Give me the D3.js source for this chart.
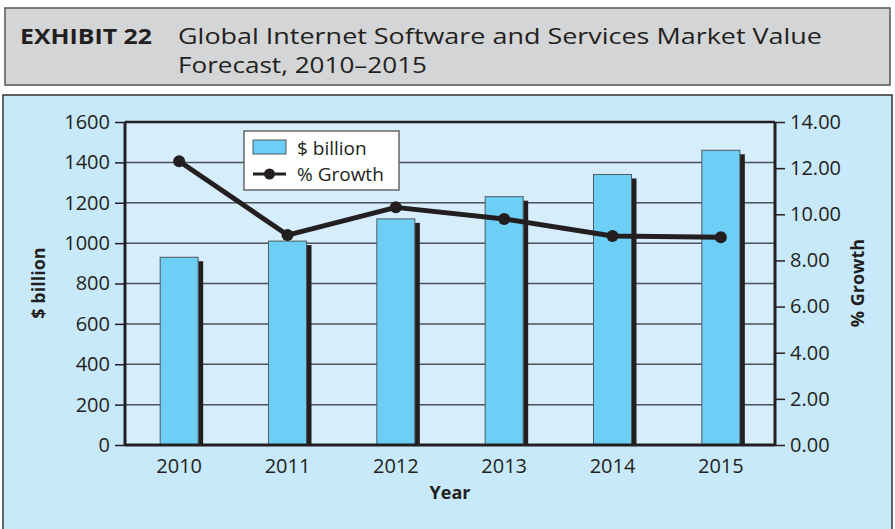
<!DOCTYPE html>
<html><head><meta charset="utf-8">
<script src="https://cdn.jsdelivr.net/npm/d3@7/dist/d3.min.js"></script>
<style>body{margin:0;background:#fff;}svg{display:block;}</style>
</head><body>
<script>
const years = ["2010","2011","2012","2013","2014","2015"];
const billions = [930, 1010, 1120, 1230, 1340, 1460];
const growth = [12.3, 9.1, 10.3, 9.8, 9.06, 9.0];
const leftTicks = [0,200,400,600,800,1000,1200,1400,1600];
const rightTicks = [0,2,4,6,8,10,12,14];

const W=895,H=529;
const svg=d3.select("body").append("svg").attr("width",W).attr("height",H);
const font="'Open Sans', sans-serif";

// header
svg.append("rect").attr("x",5).attr("y",8).attr("width",885).attr("height",77)
  .attr("fill","#d4d5d6").attr("stroke","#555").attr("stroke-width",1.5);
svg.append("text").attr("x",20).attr("y",44).attr("font-family",font).attr("font-weight",700)
  .attr("font-size",21).attr("fill","#231f20").attr("textLength",132).attr("lengthAdjust","spacingAndGlyphs").text("EXHIBIT 22");
svg.append("text").attr("x",178).attr("y",44).attr("font-family",font)
  .attr("font-size",21).attr("fill","#231f20").attr("textLength",644).attr("lengthAdjust","spacingAndGlyphs").text("Global Internet Software and Services Market Value");
svg.append("text").attr("x",178).attr("y",73).attr("font-family",font)
  .attr("font-size",21).attr("fill","#231f20").attr("textLength",249).attr("lengthAdjust","spacingAndGlyphs").text("Forecast, 2010–2015");

// panel
svg.append("rect").attr("x",3).attr("y",95).attr("width",889).attr("height",440)
  .attr("fill","#c7e9f9").attr("stroke","#333").attr("stroke-width",1.5);

const m={l:125,r:775,t:122,b:445};
const x=d3.scaleBand().domain(years).range([m.l,m.r]);
const yL=d3.scaleLinear().domain([0,1600]).range([m.b,m.t]);
const yR=d3.scaleLinear().domain([0,14]).range([m.b,m.t]);

svg.append("rect").attr("x",m.l).attr("y",m.t).attr("width",m.r-m.l).attr("height",m.b-m.t).attr("fill","#d6eefb");

// gridlines
svg.append("g").selectAll("line").data(leftTicks.filter(d=>d>0&&d<1600)).join("line")
  .attr("x1",m.l).attr("x2",m.r).attr("y1",d=>yL(d)).attr("y2",d=>yL(d))
  .attr("stroke","#4d5256").attr("stroke-width",1.5);

// bars
const bw=38;
const bars=svg.append("g");
bars.selectAll("rect.sh").data(years).join("rect").attr("class","sh")
  .attr("x",(d)=>x(d)+x.bandwidth()/2-bw/2+bw).attr("width",5)
  .attr("y",(d,i)=>yL(billions[i])+4).attr("height",(d,i)=>m.b-yL(billions[i])-4).attr("fill","#231f20");
bars.selectAll("rect.b").data(years).join("rect").attr("class","b")
  .attr("x",(d)=>x(d)+x.bandwidth()/2-bw/2).attr("width",bw)
  .attr("y",(d,i)=>yL(billions[i])).attr("height",(d,i)=>m.b-yL(billions[i]))
  .attr("fill","#6dcff6").attr("stroke","#4d5a60").attr("stroke-width",1);

// border top
svg.append("line").attr("x1",m.l).attr("x2",m.r).attr("y1",m.t).attr("y2",m.t).attr("stroke","#231f20").attr("stroke-width",2.5);

// axes
const axL=svg.append("g").attr("transform",`translate(${m.l},0)`)
  .call(d3.axisLeft(yL).tickValues(leftTicks).tickSize(10).tickPadding(5).tickFormat(d3.format("d")));
const axR=svg.append("g").attr("transform",`translate(${m.r},0)`)
  .call(d3.axisRight(yR).tickValues(rightTicks).tickSize(10).tickPadding(5).tickFormat(d3.format(".2f")));
const axB=svg.append("g").attr("transform",`translate(0,${m.b})`)
  .call(d3.axisBottom(x).tickSize(0).tickPadding(14));
[axL,axR,axB].forEach(a=>{
  a.select(".domain").attr("stroke","#231f20").attr("stroke-width",3);
  a.selectAll(".tick line").attr("stroke","#231f20").attr("stroke-width",1.5);
  a.selectAll("text").attr("font-family",font).attr("font-size",20).attr("fill","#231f20");
});
axL.select(".domain").attr("d",`M0,${m.t}V${m.b}`);
axR.select(".domain").attr("d",`M0,${m.t}V${m.b}`);
axB.select(".domain").attr("d",`M${m.l},0H${m.r}`);

// line
const line=d3.line().x((d,i)=>x(years[i])+x.bandwidth()/2).y(d=>yR(d));
svg.append("path").datum(growth).attr("d",line).attr("fill","none").attr("stroke","#231f20").attr("stroke-width",5).attr("stroke-linejoin","round");
svg.append("g").selectAll("circle").data(growth).join("circle")
  .attr("cx",(d,i)=>x(years[i])+x.bandwidth()/2).attr("cy",d=>yR(d)).attr("r",6).attr("fill","#231f20");

// legend
const lg=svg.append("g");
lg.append("rect").attr("x",244).attr("y",131).attr("width",155).attr("height",59).attr("fill","#fff").attr("stroke","#666").attr("stroke-width",1.5);
lg.append("rect").attr("x",253).attr("y",140).attr("width",33).attr("height",14).attr("fill","#6dcff6").attr("stroke","#4d5a60");
lg.append("line").attr("x1",253).attr("x2",286).attr("y1",174).attr("y2",174).attr("stroke","#231f20").attr("stroke-width",3);
lg.append("circle").attr("cx",269.5).attr("cy",174).attr("r",5.5).attr("fill","#231f20");
lg.append("text").attr("x",297).attr("y",155).attr("font-family",font).attr("font-size",19).attr("fill","#231f20").text("$ billion");
lg.append("text").attr("x",297).attr("y",181).attr("font-family",font).attr("font-size",19).attr("fill","#231f20").text("% Growth");

// axis titles
svg.append("text").attr("transform","translate(45,283) rotate(-90)").attr("text-anchor","middle")
  .attr("font-family",font).attr("font-weight",700).attr("font-size",18).attr("fill","#231f20").text("$ billion");
svg.append("text").attr("transform","translate(864,283) rotate(-90)").attr("text-anchor","middle")
  .attr("font-family",font).attr("font-weight",700).attr("font-size",18).attr("fill","#231f20").text("% Growth");
svg.append("text").attr("x",450).attr("y",499).attr("text-anchor","middle")
  .attr("font-family",font).attr("font-weight",700).attr("font-size",18).attr("fill","#231f20").text("Year");
</script>
</body></html>
